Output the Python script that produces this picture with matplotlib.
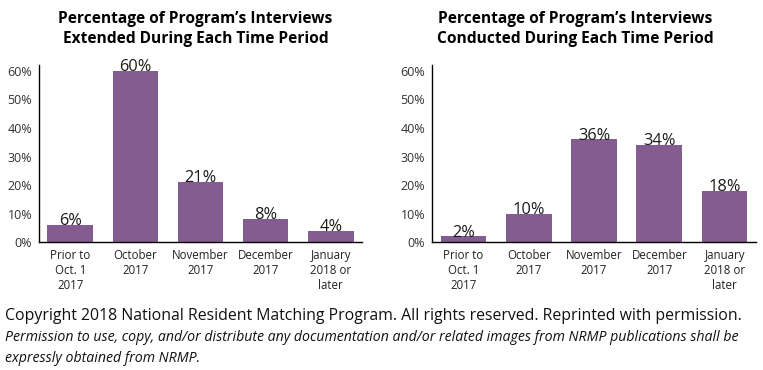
import matplotlib.pyplot as plt

plt.rcParams['font.family'] = ['Open Sans', 'DejaVu Sans']

categories = ["Prior to\nOct. 1\n2017", "October\n2017", "November\n2017",
              "December\n2017", "January\n2018 or\nlater"]
extended = [6, 60, 21, 8, 4]
conducted = [2, 10, 36, 34, 18]
yticks = [0, 10, 20, 30, 40, 50, 60]

titles = ["Percentage of Program\u2019s Interviews\nExtended During Each Time Period",
          "Percentage of Program\u2019s Interviews\nConducted During Each Time Period"]

BAR_COLOR = "#845D90"

fig = plt.figure(figsize=(7.63, 3.70), dpi=100)
ax_left = fig.add_axes([0.0511, 0.3459, 0.4233, 0.4784])
ax_right = fig.add_axes([0.5662, 0.3459, 0.4246, 0.4784])

for ax, vals, title in zip([ax_left, ax_right], [extended, conducted], titles):
    x = range(len(categories))
    ax.bar(x, vals, width=0.7, color=BAR_COLOR)
    for xi, v in zip(x, vals):
        ax.text(xi, v - 1.5, f"{v}%", ha="center", va="bottom", fontsize=11.8, color="#1a1a1a")
    ax.set_xlim(-0.48, 4.48)
    ax.set_ylim(0, 62.1)
    ax.set_yticks(yticks)
    ax.set_yticklabels([f"{t}%" for t in yticks], fontsize=9, color="#333333")
    ax.set_xticks(list(x))
    ax.set_xticklabels(categories, fontsize=8.3, color="#222222", linespacing=1.2)
    ax.tick_params(axis="both", length=0)
    ax.tick_params(axis="y", pad=5)
    ax.tick_params(axis="x", pad=5)
    for s in ["top", "right"]:
        ax.spines[s].set_visible(False)
    for s in ["left", "bottom"]:
        ax.spines[s].set_linewidth(1.0)
        ax.spines[s].set_color("black")

fig.text(0.256, 0.97, titles[0], ha="center", va="top", fontsize=11.2,
         fontweight="bold", linespacing=1.3)
fig.text(0.754, 0.97, titles[1], ha="center", va="top", fontsize=11.2,
         fontweight="bold", linespacing=1.3)

fig.text(0.006, 0.146, "Copyright 2018 National Resident Matching Program. All rights reserved. "
         "Reprinted with permission.", ha="left", va="center", fontsize=11.4, color="#111111")
fig.text(0.006, 0.087, "Permission to use, copy, and/or distribute any documentation and/or related "
         "images from NRMP publications shall be", ha="left", va="center", fontsize=10.2,
         style="italic", color="#111111")
fig.text(0.006, 0.032, "expressly obtained from NRMP.", ha="left", va="center", fontsize=10.2,
         style="italic", color="#111111")

fig.savefig("out.png", dpi=100)
